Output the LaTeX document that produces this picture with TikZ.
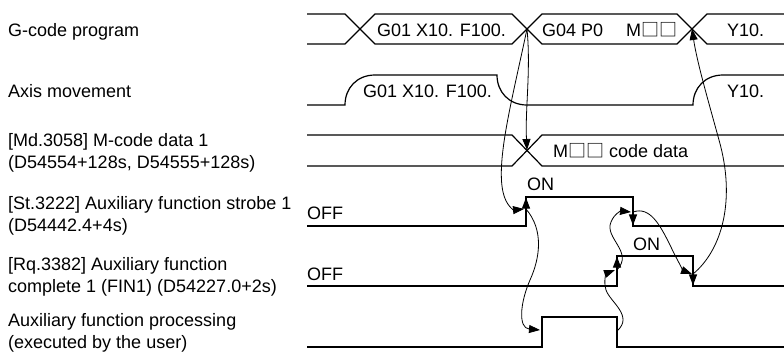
\documentclass[tikz,border=0pt]{standalone}
\usepackage{fontspec}
\setmainfont{Liberation Sans}
\newfontfamily\cjk{Noto Sans CJK JP}
\usepackage{tikz}
\usetikzlibrary{arrows.meta}
\newcommand{\mboxes}{{\cjk □□}}

\begin{document}
\begin{tikzpicture}[x=1pt,y=-1pt,
  sig/.style={line width=1.2pt,line join=miter},
  lbl/.style={anchor=base west,inner sep=0pt,align=left,font=\fontsize{18}{21.5}\selectfont},
  flow/.style={-{Triangle[length=11pt,width=8pt]},line width=0.8pt},
  edg/.style={-{Triangle[length=11pt,width=8pt]},line width=1.2pt}]
  \useasboundingbox (0,0) rectangle (784,360);
  % row labels
  \node[lbl] (lgc) at (8,36) {G-code program};
  \node[lbl] (lax) at (8,97) {Axis movement};
  \node[lbl] (lmd) at (8,168) {[Md.3058] M-code data 1\\(D54554+128s, D54555+128s)};
  \node[lbl] (lst) at (8,231) {[St.3222] Auxiliary function strobe 1\\(D54442.4+4s)};
  \node[lbl] (lfin) at (8,292) {[Rq.3382] Auxiliary function\\complete 1 (FIN1) (D54227.0+2s)};
  \node[lbl] (lpr) at (8,348) {Auxiliary function processing\\(executed by the user)};
  % G-code program
  \draw[sig] (307,14) -- (345,14) -- (375,44) -- (512,44) -- (542,14) -- (677,14) -- (707,44) -- (784,44);
  \draw[sig] (307,44) -- (345,44) -- (375,14) -- (512,14) -- (542,44) -- (677,44) -- (707,14) -- (784,14);
  \node[lbl] (g01) at (377,36) {G01 X10. F100.};
  \node[lbl] (g04) at (542,36) {G04 P0};
  \node[lbl] (gm) at (626,36) {M\mboxes};
  \node[lbl] (gy) at (727,36) {Y10.};
  % axis movement
  \draw[sig] (307,105) -- (345,105) .. controls (345,88) and (357,75) .. (375,75) -- (497,75)
    .. controls (497,92) and (509,105) .. (527,105) -- (693,105)
    .. controls (693,88) and (705,75) .. (723,75) -- (784,75);
  \node[lbl] (ax1) at (363,97) {G01 X10. F100.};
  \node[lbl] (ax2) at (727,97) {Y10.};
  % M-code data
  \draw[sig] (307,135) -- (512,135) -- (542,166) -- (784,166);
  \draw[sig] (307,166) -- (512,166) -- (542,135) -- (784,135);
  \node[lbl] (mdat) at (553,157) {M\mboxes\ code data};
  % strobe
  \draw[sig] (307,226) -- (526,226) -- (526,197) -- (633,197) -- (633,226) -- (784,226);
  \node[lbl] (stoff) at (307,219) {OFF};
  \node[lbl] (ston) at (527,190) {ON};
  % FIN
  \draw[sig] (307,286) -- (617,286) -- (617,256) -- (693,256) -- (693,286) -- (784,286);
  \node[lbl] (finoff) at (307,280) {OFF};
  \node[lbl] (finon) at (633,250) {ON};
  % user processing
  \draw[sig] (307,347) -- (542,347) -- (542,317) -- (617,317) -- (617,347) -- (784,347);
  % event points
  \coordinate (gx2) at (527,29);
  \coordinate (gx3) at (692,29);
  \coordinate (mdx) at (527,150);
  \coordinate (stR) at (526,209);
  \coordinate (stF) at (633,212);
  \coordinate (finR) at (617,270);
  \coordinate (finF) at (693,274);
  \coordinate (prR) at (542,330);
  \coordinate (prF) at (617,331);
  % edge arrows
  \draw[edg] (526,214) -- (526,197.6);
  \draw[edg] (633,209) -- (633,225.4);
  \draw[edg] (617,273) -- (617,256.6);
  \draw[edg] (693,269) -- (693,285.4);
  % sequence
  \draw[flow] (gx2) .. controls (531,70) and (525,110) .. (mdx);
  \draw[flow] (gx2) .. controls (512,100) and (496,160) .. (503,192)
    .. controls (506,206) and (514,210) .. ([xshift=-2pt]stR);
  \draw[flow] (stR) .. controls (544,230) and (540,258) .. (530,280)
    .. controls (520,303) and (518,328) .. ([xshift=-2pt]prR);
  \draw[flow] (prF) .. controls (634,316) and (610,302) .. (606,290)
    .. controls (603,280) and (607,273) .. ([xshift=-2pt]finR);
  \draw[flow] (finR) .. controls (634,252) and (604,238) .. (611,222)
    .. controls (614,214) and (621,211) .. ([xshift=-2pt]stF);
  \draw[flow] (stF) .. controls (650,206) and (660,225) .. (670,245)
    .. controls (678,262) and (684,271) .. ([xshift=-1pt]finF);
  \draw[flow] (finF) .. controls (722,250) and (736,200) .. (719,140)
    .. controls (708,100) and (697,62) .. (gx3);
\end{tikzpicture}
\end{document}
